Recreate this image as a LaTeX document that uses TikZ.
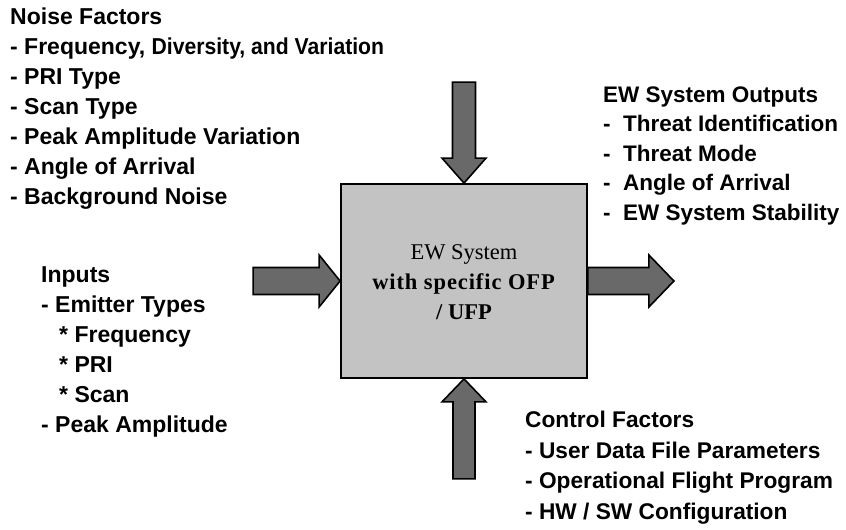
\documentclass[tikz,border=0pt]{standalone}
\usepackage{fontspec}
\setmainfont{Liberation Serif}
\setsansfont{Liberation Sans}
\usetikzlibrary{positioning}
\definecolor{boxgray}{HTML}{C3C3C3}
\definecolor{arrowgray}{HTML}{696969}

\tikzset{
  factors/.style={anchor=base west, align=left, inner sep=0pt,
    font=\sffamily\bfseries\fontsize{23}{30}\selectfont},
  system/.style={draw, line width=1.8pt, fill=boxgray,
    minimum width=246, minimum height=194, inner sep=0pt},
  blockarrow/.style={draw, line width=1.6pt, fill=arrowgray},
}

% tip, angle, length, head length, head half width, shaft half width
\newcommand{\flowarrow}[6]{%
  \draw[blockarrow, shift={(#1)}, rotate=#2]
    (0,0) -- (-#4,#5) -- (-#4,#6) -- (-#3,#6) -- (-#3,-#6)
    -- (-#4,-#6) -- (-#4,-#5) -- cycle;}

\begin{document}
\begin{tikzpicture}[x=1pt,y=-1pt]
      \useasboundingbox (0,0) rectangle (846,530);

      \path
      (464,281) node[system](sys) {}
      (464,319) node[anchor=base, align=center, inner sep=0pt,
        font=\fontsize{22.5}{30}\selectfont](syslabel)
        {EW System\\\textbf{\addfontfeatures{LetterSpace=4}with specific OFP}\\\textbf{/ UFP}}
      ;

      \path
      (10,204) node[factors](noise) {Noise Factors\\
        - Frequency, {\addfontfeatures{FakeStretch=0.92}Diversity, and Variation}\\
        - PRI Type\\
        - Scan Type\\
        - Peak Amplitude Variation\\
        - Angle of Arrival\\
        - Background Noise}
      (41,432) node[factors](inputs) {Inputs\\
        - Emitter Types\\
        \hspace*{18pt}* Frequency\\
        \hspace*{18pt}* PRI\\
        \hspace*{18pt}* Scan\\
        - Peak Amplitude}
      (603,220) node[factors, font=\sffamily\bfseries\fontsize{22.5}{29.5}\selectfont](outputs)
        {EW System Outputs\\
        -\ \ Threat Identification\\
        -\ \ Threat Mode\\
        -\ \ Angle of Arrival\\
        -\ \ EW System Stability}
      (525,519) node[factors, font=\sffamily\bfseries\fontsize{22.7}{30.5}\selectfont](control)
        {Control Factors\\
        - User Data File Parameters\\
        - Operational Flight Program\\
        - HW / SW Configuration}
      ;

      \path ([xshift=86pt]sys.east) coordinate (outtip);

      \flowarrow{sys.north}{-90}{101}{25}{22}{11.5}
      \flowarrow{sys.west}{0}{87}{21}{26}{13.5}
      \flowarrow{outtip}{0}{86}{25}{26}{13.5}
      \flowarrow{sys.south}{90}{100}{23}{22}{11}
\end{tikzpicture}
\end{document}
